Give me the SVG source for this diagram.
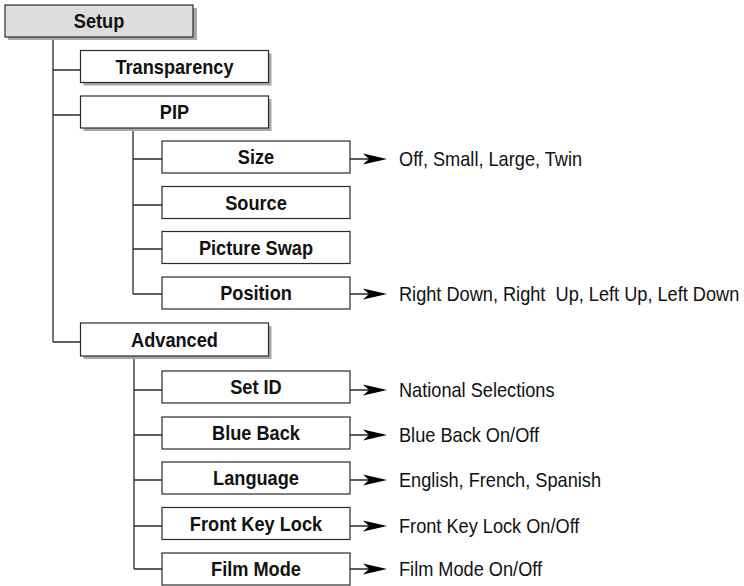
<svg xmlns="http://www.w3.org/2000/svg" width="744" height="586" viewBox="0 0 744 586">
<style>
.box{fill:#fff;stroke:#2a2a2a;stroke-width:1.2}
.root{fill:#dcdcdc;stroke:#2a2a2a;stroke-width:1.2}
.sh{fill:#a8a8a8}
.lbl{font-family:"Liberation Sans",Arial,sans-serif;font-weight:bold;font-size:21px;fill:#111;text-anchor:middle;transform-box:fill-box;transform-origin:center;transform:scaleX(0.866)}
.opt{font-family:"Liberation Sans",Arial,sans-serif;font-size:21px;fill:#111;white-space:pre;transform-box:fill-box;transform-origin:left center;transform:scaleX(0.866)}
.ln{stroke:#2a2a2a;stroke-width:1.3;fill:none}
.ah{fill:#000}
</style>
<defs>
<polygon id="arrowhead" class="ah" points="0,0 -24,-5.5 -18,0 -24,5.5"/>
</defs>
<rect x="0" y="0" width="744" height="586" fill="#fff"/>
<g id="connectors">
<path class="ln" d="M53,37V342M53,70H80.5M53,115H80.5M53,342H80.5"/>
<path class="ln" d="M133,128V294M133,159H162M133,205H162M133,249H162M133,294H162"/>
<path class="ln" d="M134,356V569M134,390H162M134,435H162M134,480H162M134,526H162M134,569H162"/>
<path class="ln" d="M350,159H372M350,294H372M350,390H372M350,435H372M350,480H372M350,526H372M350,569H372"/>
<use href="#arrowhead" x="387" y="159"/>
<use href="#arrowhead" x="387" y="294"/>
<use href="#arrowhead" x="387" y="390"/>
<use href="#arrowhead" x="387" y="435"/>
<use href="#arrowhead" x="387" y="480"/>
<use href="#arrowhead" x="387" y="526"/>
<use href="#arrowhead" x="387" y="569"/>
</g>
<g id="setup">
<rect class="sh" x="8" y="8" width="189" height="32"/>
<rect class="root" x="5" y="5" width="188" height="32"/>
<text class="lbl" x="99" y="28.5">Setup</text>
</g>
<g id="transparency">
<rect class="sh" x="83.5" y="53.5" width="188" height="32"/>
<rect class="box" x="80.5" y="50.5" width="188" height="32"/>
<text class="lbl" x="174.5" y="74">Transparency</text>
</g>
<g id="pip">
<rect class="sh" x="83.5" y="99" width="188" height="32"/>
<rect class="box" x="80.5" y="96" width="188" height="32"/>
<text class="lbl" x="174.5" y="119.5">PIP</text>
</g>
<g id="size">
<rect class="box" x="162" y="141" width="188" height="32"/>
<text class="lbl" x="256" y="164.5">Size</text>
<text class="opt" x="399" y="165.7">Off, Small, Large, Twin</text>
</g>
<g id="source">
<rect class="box" x="162" y="186.5" width="188" height="32"/>
<text class="lbl" x="256" y="210">Source</text>
</g>
<g id="picture-swap">
<rect class="box" x="162" y="231.5" width="188" height="32"/>
<text class="lbl" x="256" y="255">Picture Swap</text>
</g>
<g id="position">
<rect class="box" x="162" y="277" width="188" height="32"/>
<text class="lbl" x="256" y="300.5">Position</text>
<text class="opt" x="399" y="300.7">Right Down, Right  Up, Left Up, Left Down</text>
</g>
<g id="advanced">
<rect class="sh" x="83.5" y="326" width="188" height="33"/>
<rect class="box" x="80.5" y="323" width="188" height="33"/>
<text class="lbl" x="174.5" y="347">Advanced</text>
</g>
<g id="set-id">
<rect class="box" x="162" y="371" width="188" height="32"/>
<text class="lbl" x="256" y="394.5">Set ID</text>
<text class="opt" x="399" y="396.7">National Selections</text>
</g>
<g id="blue-back">
<rect class="box" x="162" y="417" width="188" height="32"/>
<text class="lbl" x="256" y="440.5">Blue Back</text>
<text class="opt" x="399" y="441.7">Blue Back On/Off</text>
</g>
<g id="language">
<rect class="box" x="162" y="462" width="188" height="32"/>
<text class="lbl" x="256" y="485.5">Language</text>
<text class="opt" x="399" y="486.7">English, French, Spanish</text>
</g>
<g id="front-key-lock">
<rect class="box" x="162" y="507.5" width="188" height="32"/>
<text class="lbl" x="256" y="531">Front Key Lock</text>
<text class="opt" x="399" y="532.7">Front Key Lock On/Off</text>
</g>
<g id="film-mode">
<rect class="box" x="162" y="553" width="188" height="32"/>
<text class="lbl" x="256" y="576.5">Film Mode</text>
<text class="opt" x="399" y="575.7">Film Mode On/Off</text>
</g>
</svg>
